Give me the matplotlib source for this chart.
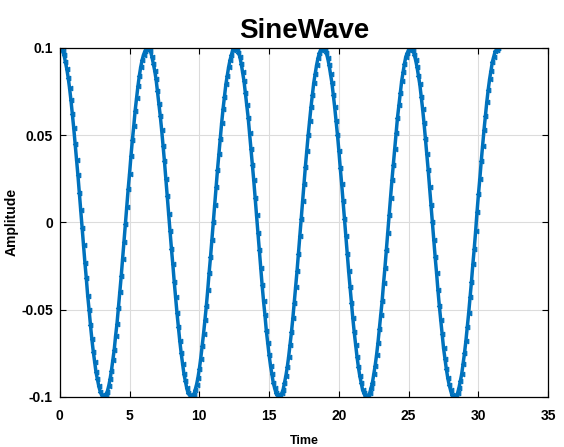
import matplotlib
matplotlib.use("Agg")
import matplotlib.pyplot as plt
import numpy as np

plt.rcParams["font.family"] = ["Liberation Sans", "DejaVu Sans"]

# sample spacing along the time axis
time_step = 0.1

# amplitude, in thousandths, one list per cycle
cycle_1 = [100, 100, 98, 96, 92, 88, 83, 77, 70, 62, 54, 45, 36, 27, 17, 7, -3, -13, -23, -32,
           -42, -50, -59, -67, -74, -80, -86, -90, -94, -97, -99, -100, -100, -99, -97, -94, -90, -85, -79, -73,
           -65, -58, -49, -40, -31, -21, -11, -1, 9, 19, 28, 38, 47, 55, 64, 71, 78, 84, 89, 93,
           96, 98, 100]
cycle_2 = [100, 99, 98, 95, 91, 87, 82, 75, 68, 61, 53, 44, 35, 25, 15, 5, -5, -15, -24, -34,
           -43, -52, -60, -68, -75, -81, -87, -91, -95, -98, -99, -100, -100, -99, -96, -93, -89, -84, -78, -71,
           -64, -56, -48, -39, -29, -20, -10, 0, 10, 20, 30, 39, 48, 57, 65, 72, 79, 84, 89, 93,
           96, 99, 100]
cycle_3 = [100, 99, 97, 95, 91, 86, 81, 74, 67, 60, 51, 42, 33, 24, 14, 4, -6, -16, -26, -36,
           -45, -53, -62, -69, -76, -82, -87, -92, -95, -98, -99, -100, -100, -98, -96, -92, -88, -83, -77, -70,
           -63, -55, -46, -37, -28, -18, -8, 2, 12, 22, 32, 41, 50, 58, 66, 73, 80, 85, 90, 94,
           97, 99, 100]
cycle_4 = [100, 99, 97, 94, 90, 85, 80, 73, 66, 58, 50, 41, 31, 22, 12, 2, -8, -18, -28, -37,
           -46, -55, -63, -70, -77, -83, -88, -92, -96, -98, -100, -100, -99, -98, -95, -92, -87, -82, -76, -69,
           -61, -53, -45, -35, -26, -16, -6, 4, 14, 24, 33, 42, 51, 60, 67, 74, 81, 86, 91, 95,
           97, 99, 100]
cycle_5 = [100, 99, 96, 93, 89, 84, 79, 72, 65, 57, 48, 39, 30, 20, 10, 0, -10, -20, -29, -39,
           -48, -56, -64, -72, -78, -84, -89, -93, -96, -99, -100, -100, -99, -98, -95, -91, -87, -81, -75, -68,
           -60, -52, -43, -34, -24, -15, -5, 6, 16, 25, 35, 44, 53, 61, 69, 76, 82, 87, 92, 95,
           98, 99, 100]

x_ticks = [0, 5, 10, 15, 20, 25, 30, 35]
y_ticks = [-0.1, -0.05, 0, 0.05, 0.1]
y_tick_labels = ["-0.1", "-0.05", "0", "0.05", "0.1"]

amplitude = np.array(cycle_1 + cycle_2 + cycle_3 + cycle_4 + cycle_5) / 1000.0
time = np.arange(len(amplitude)) * time_step

fig = plt.figure(figsize=(5.64, 4.47), dpi=100)
ax = fig.add_axes([0.106, 0.112, 0.866, 0.781])

ax.plot(time, amplitude, color="#0072BD", linewidth=2.5, marker="<",
        markersize=3.3, markeredgewidth=0.8)

ax.set_xlim(0, 35)
ax.set_ylim(-0.1, 0.1)
ax.set_xticks(x_ticks)
ax.set_xticklabels([str(v) for v in x_ticks])
ax.set_yticks(y_ticks)
ax.set_yticklabels(y_tick_labels)

ax.grid(True, color="#dcdcdc", linewidth=0.8)
ax.set_axisbelow(True)
ax.tick_params(direction="in", length=4, width=0.8, top=True, right=True,
               labelsize=10)
ax.tick_params(axis="x", pad=9)
ax.tick_params(axis="y", pad=5)
for lab in ax.get_xticklabels() + ax.get_yticklabels():
    lab.set_fontweight("bold")
for sp in ax.spines.values():
    sp.set_linewidth(0.9)

ax.set_title("SineWave", fontsize=20, fontweight="bold", pad=7)
ax.set_xlabel("Time", fontsize=9, fontweight="bold", labelpad=8)
ax.set_ylabel("Amplitude", fontsize=10, fontweight="bold", labelpad=2)

fig.savefig("out.png", dpi=100)
